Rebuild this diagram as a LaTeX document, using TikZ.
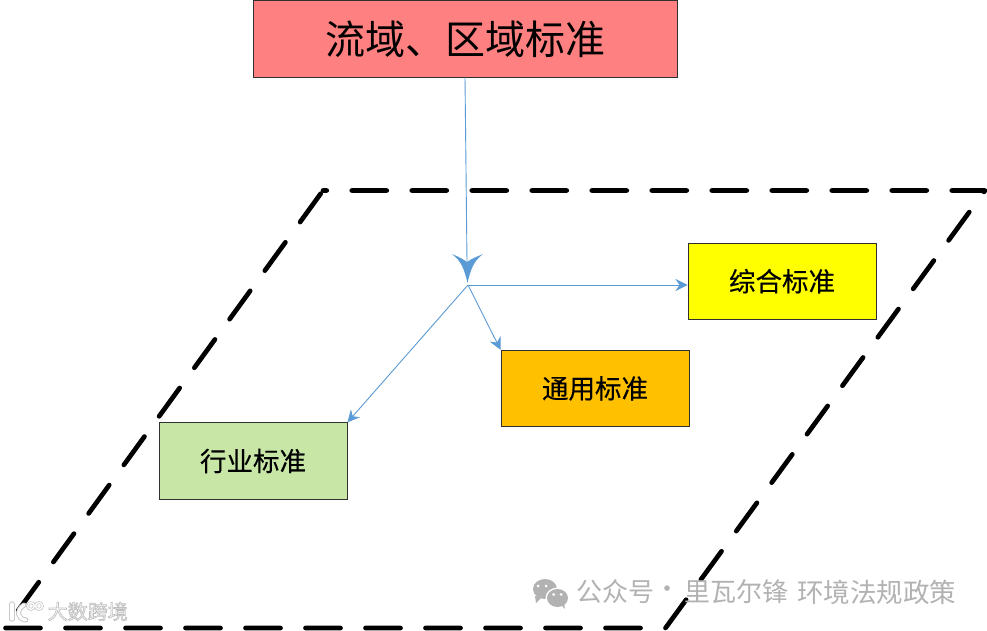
\documentclass[tikz,border=0pt]{standalone}
\usepackage{fontspec}
\setmainfont{Liberation Sans}
\newfontfamily\cjk{Noto Sans CJK SC}
\newfontfamily\cjkb{Noto Sans CJK SC}[FakeBold=0.35]
\usetikzlibrary{arrows.meta,calc}
\definecolor{conn}{HTML}{5B9BD5}
\definecolor{edgeb}{HTML}{303030}
\definecolor{redb}{HTML}{FF8080}
\definecolor{yellowb}{HTML}{FFFF00}
\definecolor{orangeb}{HTML}{FFC000}
\definecolor{greenb}{HTML}{C8E7A7}
\definecolor{wm}{HTML}{B2B2B2}
\definecolor{halo}{HTML}{C8C8C8}
\tikzset{
  x=1pt,y=-1pt,
  stdbox/.style={draw=edgeb,line width=.7pt,anchor=north west,minimum width=188.3pt,minimum height=76.7pt,inner sep=0pt,font=\cjkb\fontsize{26.5}{26.5}\selectfont},
  titlebox/.style={stdbox,minimum width=424pt,minimum height=77pt,font=\cjk\fontsize{40}{40}\selectfont},
  scopeline/.style={line width=4.7pt,black,line cap=round,line join=round,dash pattern=on 35pt off 25pt},
  link/.style={conn,line width=.9pt,-{Stealth[length=12pt,width=12pt,inset=4pt]}},
  watermark/.style={wm,inner sep=0pt,anchor=west,font=\cjk\fontsize{26}{26}\selectfont},
  leftmark/.style={inner sep=0pt,anchor=west,font=\cjk\fontsize{20}{20}\selectfont},
}
\begin{document}
\begin{tikzpicture}
\useasboundingbox (0,0) rectangle (987,631);
\fill[white] (0,0) rectangle (987,631);
% dashed parallelogram
\coordinate (pa) at (323,190.5);
\coordinate (pb) at (985,190.5);
\coordinate (pc) at (665.5,628);
\coordinate (pd) at (5.5,628);
\draw[scopeline] (pd) -- (pc) -- (pb) -- (pa);
\draw[scopeline] ($(pa)!4pt!(pd)$) -- (pd);
% boxes
\node[titlebox,fill=redb] (title) at (253,0.5) {\raisebox{1.5pt}{流域、区域标准}};
\node[stdbox,fill=yellowb] (zonghe) at (687.5,242.5) {综合标准};
\node[stdbox,fill=orangeb] (tongyong) at (500.5,349.7) {通用标准};
\node[stdbox,fill=greenb] (hangye) at (158.5,422.3) {行业标准};
% connectors
\coordinate (hub) at (468,285);
\coordinate (bighead) at (467,262);
\coordinate (titlefoot) at (465,77.5);
\draw[conn,line width=.9pt] (titlefoot) -- (bighead);
\fill[conn] (467.5,283) .. controls (464,268) and (461,261) .. (452,254)
  .. controls (459,257) and (463,259) .. (467,262)
  .. controls (471,259) and (476,257) .. (483,254)
  .. controls (474,261) and (471,268) .. (467.5,283) -- cycle;
\draw[link] (hub) -- (zonghe.west |- hub);
\draw[link] (hub) -- (tongyong.north west);
\draw[link] (hub) -- (hangye.north east);
% right watermark
\fill[wm] (545,589) ellipse (12pt and 10pt);
\fill[wm] (535,596) -- (536,603) -- (542,597) -- cycle;
\fill[white] (557.5,598) ellipse (12pt and 10.5pt);
\fill[wm] (557.5,598) ellipse (10.5pt and 9pt);
\fill[wm] (561,605) -- (565,609) -- (564,603) -- cycle;
\foreach \cx/\cy in {538/586,546/586,553.5/594.5,561/594.5}
  \fill[white] (\cx,\cy) circle (1.5pt);
\node[watermark] (wma) at (576,592) {公众号};
\node[watermark] (wmb) at (654,592) {·};
\node[watermark] (wmc) at (684.5,592) {里瓦尔锋};
\node[watermark,font=\cjk\fontsize{26.5}{26.5}\selectfont] (wmd) at (797,592) {环境法规政策};
% left watermark: white lettering with a grey outline
\node[leftmark] (wmleft) at (47.5,611.5) {\special{pdf:code 2 Tr 0.7 w 0.75 G 1 g}大数跨境\special{pdf:code 0 Tr 1 w}};
\draw[halo,line width=5.4pt,line cap=round] (12,604) -- (12,619);
\draw[halo,line width=5pt,line cap=round] (24,605) .. controls (16,610) and (17,619) .. (26,620);
\draw[white,line width=3.2pt,line cap=round] (12,604) -- (12,619);
\draw[white,line width=3pt,line cap=round] (24,605) .. controls (16,610) and (17,619) .. (26,620);
\draw[halo,line width=2.8pt] (31,606) circle (3.4pt) (39,606) circle (3.4pt);
\draw[white,line width=1.3pt] (31,606) circle (3.4pt) (39,606) circle (3.4pt);
\end{tikzpicture}
\end{document}
